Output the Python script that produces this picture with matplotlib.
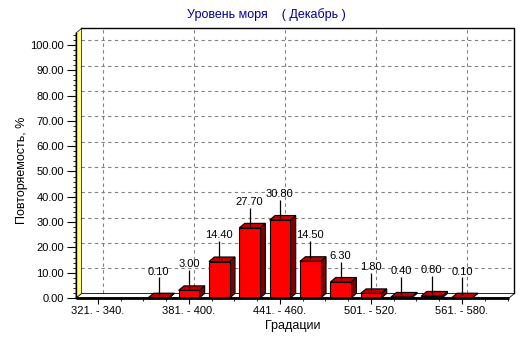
import numpy as np
import matplotlib
matplotlib.use("Agg")
import matplotlib.pyplot as plt
from matplotlib.patches import Polygon
from matplotlib.ticker import MultipleLocator, FormatStrFormatter

plt.rcParams["font.family"] = ["Liberation Sans Narrow", "Liberation Sans", "DejaVu Sans"]
plt.rcParams["font.size"] = 8

# --- data ---
categories = [
    "321. - 340.", "341. - 360.", "361. - 380.", "381. - 400.", "401. - 420.",
    "421. - 440.", "441. - 460.", "461. - 480.", "481. - 500.", "501. - 520.",
    "521. - 540.", "541. - 560.", "561. - 580.", "581. - 600.",
]
values = [0.0, 0.0, 0.10, 3.00, 14.40, 27.70, 30.80, 14.50, 6.30, 1.80, 0.40, 0.80, 0.10, 0.0]
title = "Уровень моря    ( Декабрь )"
ylabel = "Повторяемость, %"
xlabel = "Градации"

# --- figure ---
fig = plt.figure(figsize=(5.32, 3.43), dpi=100)
# axes = front plane of the pseudo-3d box
ax = fig.add_axes([0.1429, 0.1312, 0.8139, 0.7726])

x = np.arange(len(categories))
xl, xr = -0.72, 13.55
yb, yt = 0.0, 104.7
ax.set_xlim(xl, xr)
ax.set_ylim(yb, yt)

width = 0.68
dx = 0.18     # depth in category units (~5 px)
dy = 1.8      # depth in value units (~4.5 px)

# back wall grid (shifted by depth)
for yv in np.arange(10, 101, 10):
    ax.plot([xl + dx, xr + dx], [yv + dy, yv + dy], color="#808080", lw=0.8,
            ls=(0, (3, 3)), clip_on=False, zorder=0)
for xv in x[::3]:
    ax.plot([xv + dx, xv + dx], [dy, yt + dy], color="#808080", lw=0.8,
            ls=(0, (3, 3)), clip_on=False, zorder=0)

# back wall border
ax.plot([xl + dx, xr + dx, xr + dx], [yt + dy, yt + dy, dy], color="black", lw=1.0,
        clip_on=False, zorder=1)

# floor slab
floor = Polygon([(xl, 0), (xl + dx, dy), (xr + dx, dy), (xr, 0)],
                closed=True, facecolor="white", edgecolor="black", lw=0.6,
                clip_on=False, zorder=1)
ax.add_patch(floor)

# yellow side wall
wall = Polygon([(xl, 0), (xl, yt), (xl + dx, yt + dy), (xl + dx, dy)],
               closed=True, facecolor="#ffff88", edgecolor="black", lw=0.5,
               clip_on=False, zorder=1)
ax.add_patch(wall)

bars = ax.bar(x, values, width=width, color="#ff0000", edgecolor="black",
              linewidth=0.8, zorder=4)

for rect, v in zip(bars, values):
    if v <= 0:
        continue
    x0 = rect.get_x()
    x1 = x0 + rect.get_width()
    side = Polygon([(x1, 0), (x1 + dx, dy), (x1 + dx, v + dy), (x1, v)],
                   closed=True, facecolor="#800000", edgecolor="black", lw=0.8, zorder=3)
    top = Polygon([(x0, v), (x0 + dx, v + dy), (x1 + dx, v + dy), (x1, v)],
                  closed=True, facecolor="#c00000", edgecolor="black", lw=0.8, zorder=3)
    ax.add_patch(side)
    ax.add_patch(top)
    xc = x0 + rect.get_width() / 2
    ax.vlines(xc, v + dy * 0.5, v + 8.0, color="black", lw=0.9, zorder=5)
    ax.text(xc, v + 10.3, f"{v:.2f}", ha="center", va="center", fontsize=8, zorder=6)

# thick front edges
ax.plot([xl, xr], [0, 0], color="black", lw=2.0, clip_on=False, zorder=6,
        solid_capstyle="butt")
ax.plot([xl, xl], [0, yt], color="black", lw=1.0, clip_on=False, zorder=6)

for s in ax.spines.values():
    s.set_visible(False)

# ticks
ax.set_xticks(x[::3])
ax.set_xticklabels(categories[::3])
ax.set_xticks(np.arange(0, xr, 0.75), minor=True)
ax.yaxis.set_major_locator(MultipleLocator(10))
ax.yaxis.set_minor_locator(MultipleLocator(2))
ax.yaxis.set_major_formatter(FormatStrFormatter("%.2f"))
ax.tick_params(axis="y", which="major", length=6.5, pad=2, width=0.8, labelsize=8)
ax.tick_params(axis="y", which="minor", length=2.5, width=0.6)
ax.tick_params(axis="x", which="major", length=4, pad=2, width=0.8, labelsize=8)
ax.tick_params(axis="x", which="minor", length=2.5, width=0.6)

fig.text(0.5, 0.958, title, color="#000099", fontsize=9, ha="center", va="center")
ax.set_ylabel(ylabel, fontsize=9)
ax.yaxis.set_label_coords(-0.111, 0.48)
ax.set_xlabel(xlabel, fontsize=9, labelpad=3)

fig.savefig("out.png", dpi=100, facecolor="white")
